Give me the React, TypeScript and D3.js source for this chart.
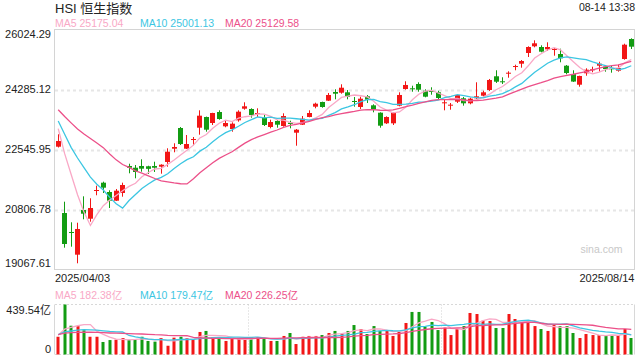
import React from 'react';
import * as d3 from 'd3';

const title = 'HSI 恒生指数';
const timeLabel = '08-14 13:38';
const startDate = '2025/04/03';
const endDate = '2025/08/14';
const watermark = 'sina.com';
const priceTicks = [19067.61, 20806.78, 22545.95, 24285.12, 26024.29];
const maNames = ['MA5', 'MA10', 'MA20'];
const maPeriods = [5, 10, 20];
const priceMaValues = ['25175.04', '25001.13', '25129.58'];
const volMaValues = ['182.38亿', '179.47亿', '226.25亿'];
const volMax = 439.54;
const volTickLabels = ['439.54亿', '0'];

// closes of the 19 sessions before the first shown candle (for moving averages)
const priorCloses = [23783, 23783, 23782, 23600, 23462, 23959, 24145, 24740, 24771, 24219, 23689, 23906, 23344, 23483, 23579, 23426, 23120, 23206, 23202];
const priorVolumes = [168, 182, 175, 190, 171, 160, 185, 178, 166, 172, 188, 176, 169, 181, 174, 178, 170, 182, 165];

const opens = [22627, 20705, 20155, 19497, 20792, 20540, 21352, 21584, 21314, 21062,
  21285, 22068, 22018, 22068, 22060, 22068, 22047, 22184, 22569, 23169,
  22569, 22830, 23178, 23488, 23314, 23633, 23218, 23140, 23392, 23729,
  23720, 23584, 23467, 23198, 23372, 23227, 23323, 23033, 23265, 23488,
  23787, 23923, 23961, 24213, 24192, 24204, 23952, 23778, 24088, 23827,
  23613, 23305, 23305, 23816, 24300, 24320, 24445, 24250, 24242, 24204,
  23894, 23836, 23932, 24030, 23885, 24030, 24105, 24271, 24668, 24523,
  24755, 24946, 25033, 25343, 25537, 25517, 25450, 25439, 25314, 24975,
  24734, 24424, 24755, 24850, 24975, 24946, 24900, 24830, 25169, 25749];
const highs = [22987, 21033, 20436, 20424, 21189, 21132, 21497, 21613, 21363, 21401,
  21584, 22134, 22097, 22262, 22075, 22192, 22117, 22581, 22726, 23198,
  22966, 22908, 23682, 23500, 23610, 23682, 23392, 23334, 23682, 23914,
  23740, 23740, 23546, 23410, 23401, 23595, 23381, 23140, 23517, 23682,
  23903, 23932, 24184, 24291, 24436, 24271, 24068, 24077, 24126, 23856,
  23624, 23508, 23624, 24204, 24523, 24395, 24494, 24291, 24349, 24250,
  24010, 23894, 24134, 24068, 24048, 24494, 24250, 24590, 24842, 24639,
  24813, 25004, 25140, 25537, 25711, 25566, 25653, 25488, 25468, 24995,
  24842, 24685, 24900, 24946, 25091, 24975, 24975, 25004, 25613, 25769];
const lows = [22604, 19700, 19729, 19247, 20523, 20453, 21219, 21285, 20850, 21053,
  21178, 21856, 21711, 21903, 21836, 21894, 21845, 22047, 22465, 22676,
  22561, 22668, 22975, 23062, 23256, 23410, 23190, 23062, 23352, 23700,
  23468, 23488, 23227, 23160, 23178, 23207, 23160, 22656, 23256, 23479,
  23740, 23758, 23952, 24001, 24163, 24001, 23787, 23720, 23894, 23624,
  23178, 23285, 23256, 23798, 24279, 24221, 24221, 24059, 24134, 23990,
  23682, 23700, 23894, 23816, 23856, 24010, 24077, 24242, 24474, 24445,
  24627, 24842, 24917, 25227, 25508, 25363, 25401, 25265, 25074, 24726,
  24505, 24366, 24685, 24784, 24801, 24801, 24772, 24801, 25149, 25459];
const closes = [22792, 19807, 20134, 20242, 20685, 20850, 21372, 21439, 21062, 21352,
  21517, 22018, 21894, 21990, 21985, 22018, 22105, 22482, 22619, 22705,
  22705, 22850, 23526, 23120, 23604, 23430, 23314, 23294, 23642, 23798,
  23546, 23604, 23256, 23343, 23265, 23517, 23285, 23120, 23439, 23604,
  23874, 23778, 24126, 24163, 24337, 24068, 23932, 24019, 23990, 23711,
  23236, 23488, 23613, 24126, 24416, 24300, 24279, 24077, 24221, 24039,
  23914, 23845, 24126, 23885, 24019, 24088, 24204, 24561, 24511, 24494,
  24772, 24966, 25111, 25517, 25624, 25381, 25517, 25459, 25190, 24763,
  24515, 24677, 24859, 24871, 25033, 24879, 24879, 24908, 25584, 25526];
const volumes = [156, 439.5, 253, 250, 213, 156, 156, 110, 127, 130,
  145, 130, 130, 156, 119, 113, 145, 77, 148, 156,
  145, 136, 198, 207, 154, 136, 119, 136, 136, 136,
  154, 154, 136, 119, 119, 163, 189, 92, 156, 163,
  163, 171, 189, 207, 183, 207, 259, 224, 180, 250,
  209, 207, 163, 198, 277, 374, 374, 244, 286, 215,
  236, 171, 224, 250, 365, 356, 297, 294, 233, 233,
  356, 312, 286, 286, 250, 224, 207, 259, 250, 250,
  189, 145, 180, 171, 171, 163, 171, 171, 224, 145];

const RED = '#f21616';
const GREEN = '#139c13';
const MA_COLORS = ['#f9a8c6', '#3cc6e2', '#ec5089'];
const FONT = '"Liberation Sans", Arial, "Noto Sans CJK SC", sans-serif';

function movingAverage(prior: number[], values: number[], n: number): number[] {
  const all = prior.concat(values);
  const off = prior.length;
  return values.map((_, i) => d3.mean(all.slice(off + i - n + 1, off + i + 1)) as number);
}

export default function App() {
  const L = 55, R = 634.5;
  const top = 29.5, bottom = 269.5;
  const vTop = 304.5, vBottom = 354.5;
  const n = closes.length;
  const x = d3.scaleBand<number>().domain(d3.range(n)).range([L, R]);
  const step = x.step();
  const cx = (i: number) => (x(i) as number) + step / 2;
  const y = d3.scaleLinear().domain([priceTicks[0], priceTicks[priceTicks.length - 1]]).range([bottom, top]);
  const yv = d3.scaleLinear().domain([0, volMax]).range([vBottom, vTop]);

  const priceMA = maPeriods.map(p => movingAverage(priorCloses, closes, p));
  const volMA = maPeriods.map(p => movingAverage(priorVolumes, volumes, p));
  const priceLine = d3.line<number>().x((_, i) => cx(i)).y(d => y(d));
  const volLine = d3.line<number>().x((_, i) => cx(i)).y(d => yv(d));

  const legendX = [55, 140, 225];

  return (
    <svg width={640} height={360} style={{ position: 'absolute', left: 0, top: 0, background: '#fff' }} fontFamily={FONT}>
      <text x={55} y={12.5} fontSize={13} fill="#222">{title}</text>
      <text x={635} y={10.5} fontSize={10.5} fill="#222" textAnchor="end">{timeLabel}</text>
      {maNames.map((m, k) => (
        <text key={m} x={legendX[k]} y={27.3} fontSize={10.5} fill={MA_COLORS[k]}>{m} {priceMaValues[k]}</text>
      ))}

      {/* grid */}
      {priceTicks.slice(1, -1).map(t => (
        <line key={t} x1={L} x2={R} y1={Math.round(y(t)) + 0.5} y2={Math.round(y(t)) + 0.5} stroke="#e6e6e6" strokeWidth={2} strokeDasharray="3,3" />
      ))}
      <rect x={L - 0.5} y={top} width={R - L + 0.5} height={bottom - top} fill="none" stroke="#d4d4d4" strokeWidth={1} />

      {priceTicks.map((t, k) => {
        let yy = y(t) + 3.8;
        if (k === priceTicks.length - 1) yy = 38.3;
        if (k === 0) yy = 266.7;
        return <text key={t} x={51} y={yy} fontSize={11} fill="#222" textAnchor="end">{t.toFixed(2)}</text>;
      })}
      <text x={55} y={281.5} fontSize={11} fill="#222">{startDate}</text>
      <text x={634.5} y={281.5} fontSize={11} fill="#222" textAnchor="end">{endDate}</text>
      <text x={622.5} y={253} fontSize={10.5} fill="#c8c8c8" textAnchor="end">{watermark}</text>

      {/* candles */}
      {closes.map((c, i) => {
        const o = opens[i];
        const up = c >= o;
        const col = up ? RED : GREEN;
        const xc = Math.round(cx(i) - 0.5) + 0.5;
        const yT = y(Math.max(o, c));
        const yB = y(Math.min(o, c));
        return (
          <g key={i}>
            <line x1={xc} x2={xc} y1={y(highs[i])} y2={y(lows[i])} stroke={col} strokeWidth={1} />
            <rect x={xc - 2.5} y={yT} width={5} height={Math.max(1, yB - yT)} fill={col} />
          </g>
        );
      })}
      {priceMA.map((arr, k) => (
        <path key={k} d={priceLine(arr) as string} fill="none" stroke={MA_COLORS[k]} strokeWidth={1.3} />
      ))}

      {/* volume pane */}
      {maNames.map((m, k) => (
        <text key={m} x={legendX[k]} y={298.5} fontSize={10.5} fill={MA_COLORS[k]}>{m} {volMaValues[k]}</text>
      ))}
      <text x={51} y={314} fontSize={11} fill="#222" textAnchor="end">{volTickLabels[0]}</text>
      <text x={51} y={352.5} fontSize={11} fill="#222" textAnchor="end">{volTickLabels[1]}</text>
      <line x1={L} x2={R} y1={vTop} y2={vTop} stroke="#d8d8d8" strokeWidth={1} strokeDasharray="2,2" />
      <line x1={L} x2={R} y1={vBottom} y2={vBottom} stroke="#d8d8d8" strokeWidth={1} strokeDasharray="2,2" />
      <line x1={L - 0.5} x2={L - 0.5} y1={vTop} y2={vBottom} stroke="#d8d8d8" strokeWidth={1} />
      <line x1={R} x2={R} y1={vTop} y2={vBottom} stroke="#d8d8d8" strokeWidth={1} />
      {[30, 60].map(k => (
        <line key={k} x1={Math.round(x(k) as number) + 0.5} x2={Math.round(x(k) as number) + 0.5} y1={vTop} y2={vBottom} stroke="#d0d0d0" strokeWidth={1} strokeDasharray="1,2" />
      ))}
      {volumes.map((v, i) => {
        const up = closes[i] >= opens[i];
        const xc = Math.round(cx(i));
        return <rect key={i} x={xc - 1.5} y={yv(v)} width={3} height={vBottom - yv(v)} fill={up ? RED : GREEN} />;
      })}
      {volMA.map((arr, k) => (
        <path key={k} d={volLine(arr) as string} fill="none" stroke={MA_COLORS[k]} strokeWidth={1.3} />
      ))}
    </svg>
  );
}
